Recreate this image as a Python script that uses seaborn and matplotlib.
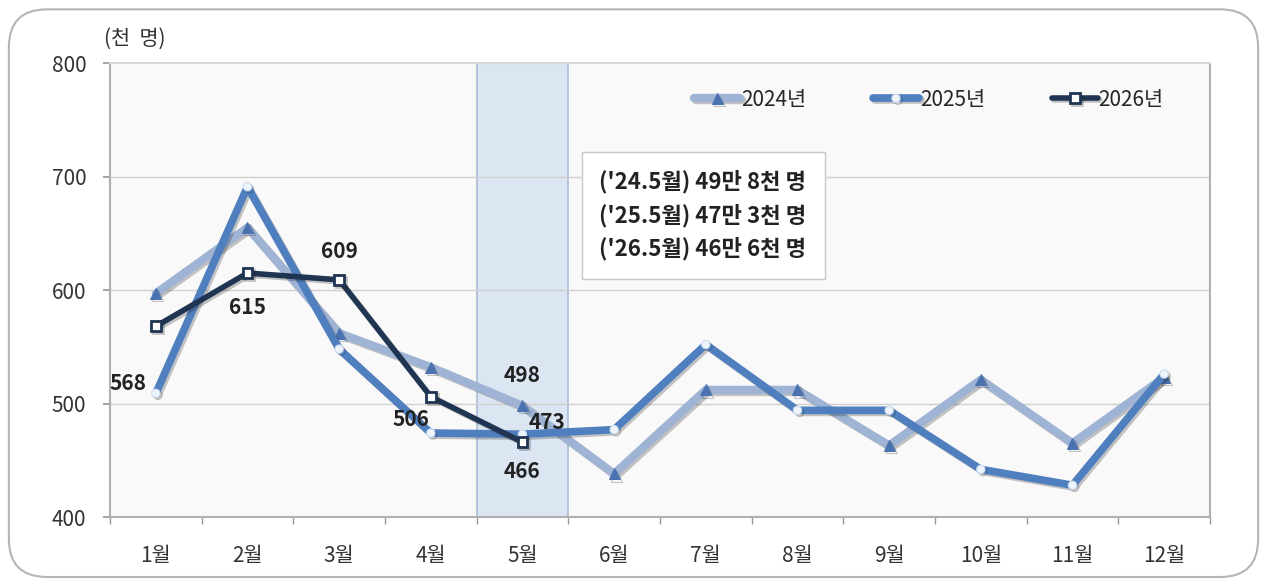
import numpy as np
import pandas as pd
import matplotlib.pyplot as plt
import seaborn as sns
from matplotlib.patches import FancyBboxPatch
from matplotlib.ticker import FixedLocator
import matplotlib.patheffects as pe

months = ['1월', '2월', '3월', '4월', '5월', '6월', '7월', '8월', '9월', '10월', '11월', '12월']
y2024 = [597, 655, 562, 532, 498, 438, 512, 512, 463, 521, 465, 523]
y2025 = [509, 691, 548, 474, 473, 477, 552, 494, 494, 442, 428, 526]
y2026 = [568, 615, 609, 506, 466]
yticks = [400, 500, 600, 700, 800]
box_lines = ["('24.5월) 49만 8천 명", "('25.5월) 47만 3천 명", "('26.5월) 46만 6천 명"]

sns.set_theme(style='white')
plt.rcParams['font.family'] = ['Noto Sans CJK KR', 'DejaVu Sans']
plt.rcParams['axes.unicode_minus'] = False

fig = plt.figure(figsize=(12.67, 5.84), dpi=100)
frame = FancyBboxPatch((0.007, 0.012), 0.986, 0.972,
                       boxstyle='round,pad=0,rounding_size=0.03',
                       transform=fig.transFigure, facecolor='white',
                       edgecolor='#b5b5b5', linewidth=1.5,
                       mutation_aspect=1267 / 584, zorder=-10)
fig.patches.append(frame)
ax = fig.add_axes([0.0868, 0.1147, 0.8682, 0.7773])
ax.set_facecolor('#f9f9f9')

x_all = np.arange(len(months))
df24 = pd.DataFrame({'x': x_all, 'v': y2024})
df25 = pd.DataFrame({'x': x_all, 'v': y2025})
df26 = pd.DataFrame({'x': x_all[:len(y2026)], 'v': y2026})

# 5월 highlight band
ax.axvspan(3.5, 4.5, facecolor='#dce6f2', edgecolor='#a9bdd8', linewidth=1.2, zorder=0.5)

for yv in yticks[1:-1]:
    ax.axhline(yv, color='#d0d0d0', linewidth=1, zorder=0.6)

sns.lineplot(data=df24, x='x', y='v', ax=ax, color='#9fb4d4', linewidth=6,
             marker='^', markersize=8, markerfacecolor='#4a72b0',
             markeredgecolor='#4a72b0', label='2024년', zorder=3)
sns.lineplot(data=df25, x='x', y='v', ax=ax, color='#4f7fbe', linewidth=5.5,
             marker='o', markersize=6, markerfacecolor='#eef4fb',
             markeredgecolor='#c8dbf0', label='2025년', zorder=4)
sns.lineplot(data=df26, x='x', y='v', ax=ax, color='#1f3552', linewidth=4,
             marker='s', markersize=7, markerfacecolor='white',
             markeredgecolor='#1f3552', markeredgewidth=2, label='2026년', zorder=5)

# soft drop shadow like the original
for ln in ax.lines[-3:]:
    ln.set_path_effects([pe.SimpleLineShadow(offset=(1.5, -1.5), alpha=0.25), pe.Normal()])

lab = dict(fontsize=15, fontweight='bold', color='#222222', zorder=6)
ax.text(x_all[0] - 0.3, y2026[0] - 50, str(y2026[0]), ha='center', va='center', **lab)
ax.text(x_all[1], y2026[1] - 30, str(y2026[1]), ha='center', va='center', **lab)
ax.text(x_all[2], y2026[2] + 25, str(y2026[2]), ha='center', va='center', **lab)
ax.text(x_all[3] - 0.22, y2026[3] - 20, str(y2026[3]), ha='center', va='center', **lab)
ax.text(x_all[4], y2024[4] + 27, str(y2024[4]), ha='center', va='center', **lab)
ax.text(x_all[4] + 0.27, y2025[4] + 10, str(y2025[4]), ha='center', va='center', **lab)
ax.text(x_all[4], y2026[4] - 26, str(y2026[4]), ha='center', va='center', **lab)

ax.text(0.445, 0.665, '\n'.join(box_lines), transform=ax.transAxes, ha='left', va='center',
        fontsize=16, fontweight='bold', color='#222222', linespacing=1.55, zorder=7,
        bbox=dict(boxstyle='square,pad=0.8', facecolor='white', edgecolor='#c8c8c8'))

ax.set_xlim(-0.5, 11.5)
ax.set_ylim(400, 800)
ax.set_xticks(x_all)
ax.set_xticklabels(months)
ax.set_yticks(yticks)
ax.xaxis.set_minor_locator(FixedLocator(np.arange(-0.5, 12, 1)))
ax.tick_params(axis='x', which='major', length=0, pad=20, labelsize=15, labelcolor='#333333')
ax.tick_params(axis='x', which='minor', length=5, color='#999999', direction='out', bottom=True)
ax.tick_params(axis='y', length=5, color='#999999', left=True, labelsize=15, labelcolor='#333333', pad=12)
ax.set_xlabel('')
ax.set_ylabel('')
for side, sp in ax.spines.items():
    sp.set_visible(True)
    sp.set_color('#b0b0b0' if side in ('left', 'bottom', 'right') else '#d8d8d8')
    sp.set_linewidth(1.5)

ax.text(-0.005, 1.03, '(천  명)', transform=ax.transAxes, ha='left', va='bottom',
        fontsize=15, color='#333333')

ax.legend(loc='upper right', bbox_to_anchor=(0.975, 0.985), ncol=3, frameon=False,
          fontsize=15, handlelength=2.2, columnspacing=3.2, handletextpad=0.05)

fig.savefig('out.png', dpi=100)
